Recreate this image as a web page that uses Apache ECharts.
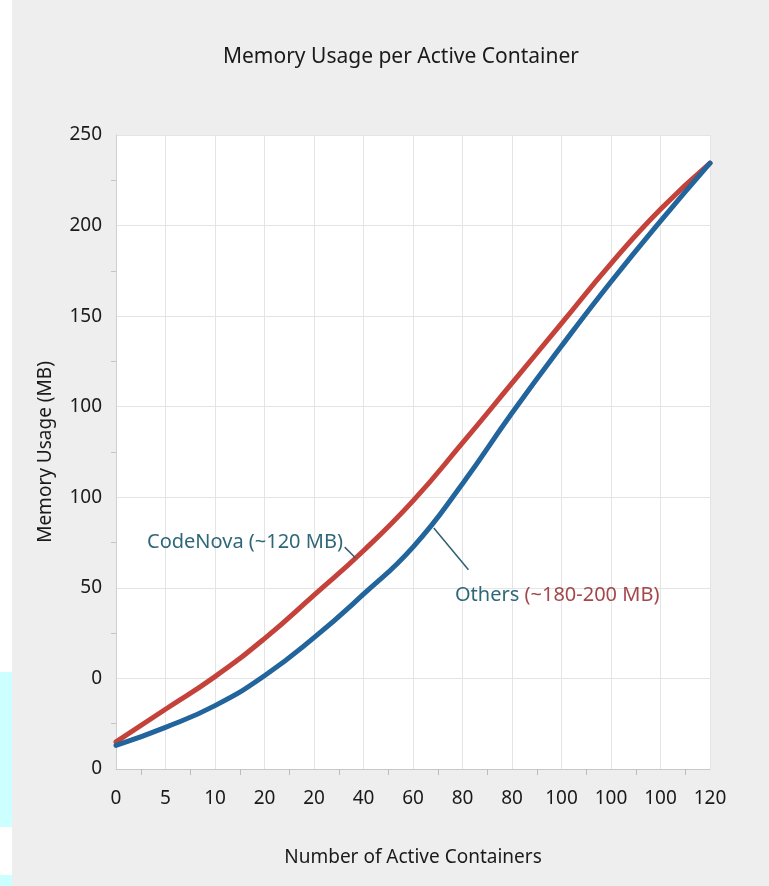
<!DOCTYPE html>
<html>
<head>
<meta charset="utf-8">
<script src="https://cdn.jsdelivr.net/npm/echarts@6/dist/echarts.min.js"></script>
<style>
html,body{margin:0;padding:0;background:#eeeeee;}
#c{width:769px;height:886px;}
</style>
</head>
<body>
<div id="c"></div>
<script>
// Tick labels (as printed in the reference)
const xTickLabels = ['0','5','10','20','20','40','60','80','80','100','100','100','120'];
const yTickLabels = ['0','0','50','100','100','150','200','250'];
// Positions along the x axis (tick index)
const xPositions = [0,1,2,3,4,5,6,7,8,9,10,11,12];
// Series values in tick-index units of the y axis
const codeNova = [0.30,0.66,1.02,1.44,1.92,2.41,2.96,3.60,4.26,4.92,5.58,6.18,6.69];
const others   = [0.26,0.46,0.70,1.03,1.45,1.93,2.45,3.15,3.93,4.67,5.38,6.05,6.69];

const title = 'Memory Usage per Active Container';
const xName = 'Number of Active Containers';
const yName = 'Memory Usage (MB)';
const FONT = "'Noto Sans', sans-serif";

const chart = echarts.init(document.getElementById('c'), null, {renderer:'canvas'});
chart.setOption({
  backgroundColor: '#eeeeee',
  animation: false,
  title: {
    text: title, left: 396, top: 42, textAlign: 'center',
    textStyle: {fontFamily: FONT, fontSize: 21, fontWeight: 'normal', color: '#1a1a1a'}
  },
  grid: {left:116, right:59, top:135, bottom:117, show:true, backgroundColor:'#ffffff', borderWidth:0},
  xAxis: {
    type:'value', min:0, max:12, interval:1,
    name: xName, nameLocation:'middle', nameGap:79,
    nameTextStyle:{fontFamily:FONT, fontSize:19, color:'#1a1a1a'},
    axisLine:{show:true, lineStyle:{color:'#c8c8c8', width:1}},
    axisTick:{show:false},
    minorTick:{show:true, splitNumber:2, length:6, lineStyle:{color:'#bdbdbd'}},
    splitLine:{show:true, lineStyle:{color:'#e4e4e4', width:1}},
    axisLabel:{margin:20, fontFamily:FONT, fontSize:19, color:'#1a1a1a',
      formatter:(v)=> xTickLabels[Math.round(v)] ?? ''}
  },
  yAxis: {
    type:'value', min:0, max:7, interval:1,
    name: yName, nameLocation:'middle', nameGap:61, nameRotate:90,
    nameTextStyle:{fontFamily:FONT, fontSize:19, color:'#1a1a1a'},
    axisLine:{show:true, lineStyle:{color:'#d0d0d0', width:1}},
    axisTick:{show:false},
    minorTick:{show:true, splitNumber:2, length:5, lineStyle:{color:'#c4c4c4'}},
    splitLine:{show:true, lineStyle:{color:'#e4e4e4', width:1}},
    axisLabel:{margin:14, fontFamily:FONT, fontSize:19, color:'#1a1a1a',
      formatter:(v)=> yTickLabels[Math.round(v)] ?? ''}
  },
  series: [
    {
      name:'CodeNova', type:'line', smooth:0.5, showSymbol:false,
      data: xPositions.map((x,i)=>[x, codeNova[i]]),
      lineStyle:{color:'#c4423a', width:5, cap:'round'},
      z:2,
      markLine:{silent:true, symbol:['none','none'], label:{show:false},
        lineStyle:{color:'#3a5f6e', width:1.5, type:'solid'},
        data:[[{coord:[4.62,2.45]},{coord:[4.84,2.33]}]]}
    },
    {
      name:'Others', type:'line', smooth:0.5, showSymbol:false,
      data: xPositions.map((x,i)=>[x, others[i]]),
      lineStyle:{color:'#22649c', width:5, cap:'round'},
      z:3,
      markLine:{silent:true, symbol:['none','none'], label:{show:false},
        lineStyle:{color:'#2f5f70', width:1.5, type:'solid'},
        data:[[{coord:[6.42,2.66]},{coord:[7.12,2.20]}]]}
    }
  ],
  graphic: [
    {type:'rect', left:0, top:0, shape:{width:12, height:886}, style:{fill:'#ffffff'}, z:-10},
    {type:'rect', left:0, top:672, shape:{width:12, height:155}, style:{fill:'#ccffff'}, z:-9},
    {type:'rect', left:0, top:875, shape:{width:12, height:11}, style:{fill:'#ccffff'}, z:-9},
    {type:'text', left:147, top:532, z:10,
      style:{text:'CodeNova (~120 MB)', font:"20px 'Noto Sans', sans-serif", fill:'#2e6878'}},
    {type:'text', left:455, top:585, z:10,
      style:{text:'{a|Others} {b|(~180-200 MB)}', font:"20px 'Noto Sans', sans-serif",
        rich:{a:{fontFamily:FONT, fontSize:20, fill:'#2e6878'}, b:{fontFamily:FONT, fontSize:20, fill:'#a4484c'}}}}
  ]
});
</script>
</body>
</html>
